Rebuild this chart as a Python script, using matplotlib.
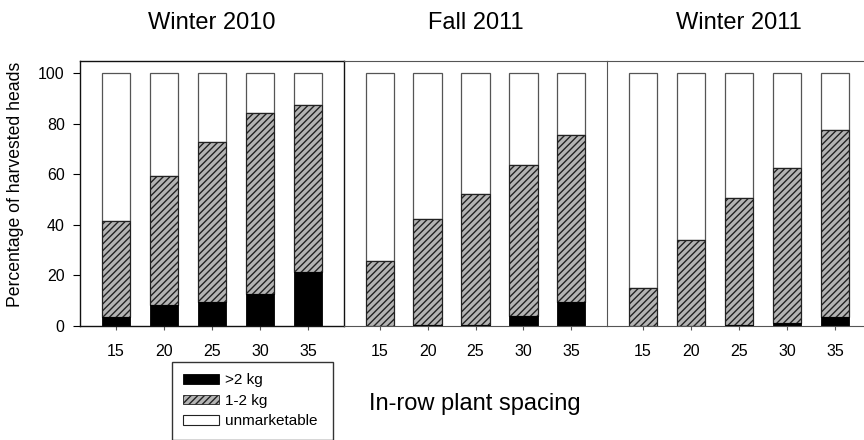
import matplotlib
matplotlib.use("Agg")
import matplotlib.pyplot as plt
from matplotlib.patches import Patch
import numpy as np

plt.rcParams['font.family'] = ['Liberation Sans', 'DejaVu Sans']
plt.rcParams['hatch.linewidth'] = 1.0

spacings = ["15", "20", "25", "30", "35"]
seasons = ["Winter 2010", "Fall 2011", "Winter 2011"]
over2kg = {
    "Winter 2010": [3.7, 8.3, 9.4, 12.7, 21.5],
    "Fall 2011": [0.0, 0.5, 0.5, 4.1, 9.4],
    "Winter 2011": [0.0, 0.0, 0.3, 1.1, 3.4],
}
kg1to2_top = {
    "Winter 2010": [41.3, 59.1, 72.6, 84.3, 87.2],
    "Fall 2011": [25.7, 42.2, 52.1, 63.6, 75.5],
    "Winter 2011": [15.0, 33.8, 50.5, 62.5, 77.6],
}
total = [100, 100, 100, 100, 100]
yticks = [0, 20, 40, 60, 80, 100]
legend_labels = [">2 kg", "1-2 kg", "unmarketable"]

W, H = 864, 440
fig = plt.figure(figsize=(W / 100, H / 100), dpi=100)

lefts = [80, 344, 607]
widths = [264, 263, 264]
bottom_px, top_px = 326, 61
axes = []
x = np.arange(len(spacings))
for i, s in enumerate(seasons):
    ax = fig.add_axes([lefts[i] / W, 1 - bottom_px / H, widths[i] / W, (bottom_px - top_px) / H])
    ax.patch.set_visible(False)
    axes.append(ax)
    blk = np.array(over2kg[s])
    mid_top = np.array(kg1to2_top[s])
    tot = np.array(total, dtype=float)
    ax.bar(x, tot - mid_top, bottom=mid_top, width=0.6, color='white', edgecolor='#555555', linewidth=0.9)
    ax.bar(x, mid_top - blk, bottom=blk, width=0.6, color='#b4b4b4', edgecolor='#222222',
           hatch='/////', linewidth=0.9)
    ax.bar(x, blk, width=0.6, color='black', edgecolor='black', linewidth=0.6)
    ax.set_xlim(-0.75, 4.75)
    ax.set_ylim(0, 104.7)
    ax.set_xticks(x)
    ax.set_xticklabels(spacings, fontsize=11.5)
    ax.tick_params(axis='x', direction='out', length=3, width=0.8, pad=10, color='#555555')
    if i == 0:
        ax.set_yticks(yticks)
        ax.tick_params(axis='y', direction='out', length=5, width=0.8, pad=6, labelsize=11.5)
        for sp in ax.spines.values():
            sp.set_color('#111111')
            sp.set_linewidth(1.0)
        ax.spines['right'].set_zorder(5)
    else:
        ax.set_yticks([])
        ax.spines['left'].set_visible(False)
        for k in ['top', 'bottom', 'right']:
            ax.spines[k].set_color('#555555')
            ax.spines[k].set_linewidth(0.8)
    cx = (lefts[i] + widths[i] / 2) / W
    fig.text(cx, 1 - 23 / H, s, ha='center', va='center', fontsize=17)

fig.text(16 / W, 1 - 184.5 / H, "Percentage of harvested heads", rotation=90,
         ha='center', va='center', fontsize=12.7)
fig.text(474.5 / W, 1 - 410 / H, "In-row plant spacing", ha='center', va='baseline', fontsize=17)

handles = [
    Patch(facecolor='black', edgecolor='black', linewidth=0.6),
    Patch(facecolor='#b4b4b4', edgecolor='#222222', hatch='/////', linewidth=0.6),
    Patch(facecolor='white', edgecolor='#222222', linewidth=0.8),
]
leg = fig.legend(handles, legend_labels, loc='upper left',
                 bbox_to_anchor=(172 / W, 1 - 362 / H, (333 - 172) / W, 0.0), mode='expand',
                 fontsize=11, frameon=True, fancybox=False, edgecolor='black',
                 handlelength=2.35, handleheight=0.6, handletextpad=0.4,
                 labelspacing=0.42, borderpad=0.75, borderaxespad=0.0)
leg.get_frame().set_linewidth(1.0)

fig.savefig("out.png", dpi=100)
